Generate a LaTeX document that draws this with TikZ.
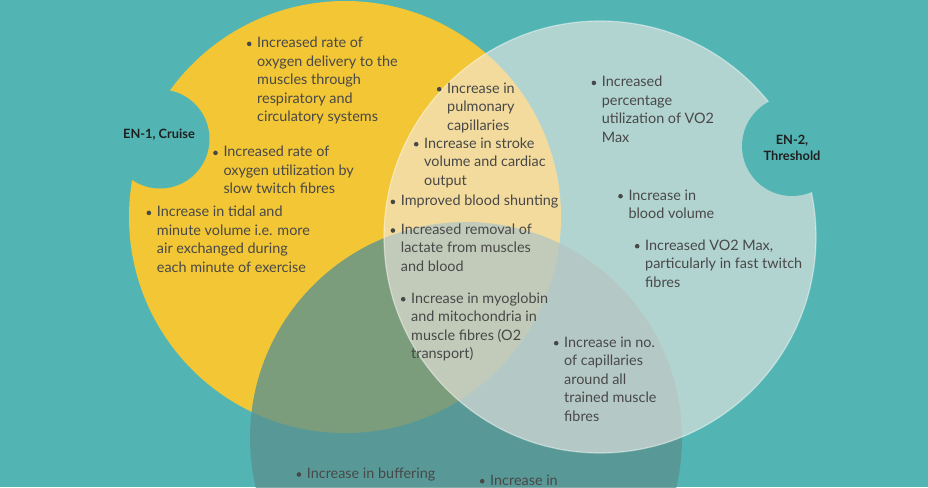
\documentclass[tikz,border=0pt]{standalone}
\usepackage{fontspec}
\setmainfont{Lato}
\usepackage{tikz}
\definecolor{enbg}{RGB}{82,181,180}
\definecolor{enyel}{RGB}{242,198,52}
\definecolor{enlit}{RGB}{242,234,228}
\definecolor{endrk}{RGB}{90,146,144}
\definecolor{entext}{RGB}{72,72,72}
\def\rSet{216}
\def\xYel{345}
\def\yYel{217}
\def\xLit{600}
\def\yLit{237}
\def\xDrk{466}
\def\yDrk{438}
\tikzset{
  enyelset/.style={fill=enyel},
  endrkset/.style={fill=endrk, fill opacity=0.78},
  enlitset/.style={fill=enlit, fill opacity=0.6, draw=white, draw opacity=0.45, line width=1.2pt},
  encut/.style={fill=enbg},
  entxt/.style={font=\fontsize{14.4}{18.5}\selectfont, text=entext, align=left, anchor=north west, inner sep=0pt},
  endot/.style={circle, fill=entext, inner sep=0pt, minimum size=4.6pt},
  enlbl/.style={font=\fontsize{12.8}{16}\selectfont\bfseries, text=black!88, align=center, inner sep=0pt},
}
\newcommand{\enitem}[4]{%
  \node[entxt] (#1) at (#2,#3) {\strut#4};
  \node[endot] (#1b) at ([xshift=-7.8pt,yshift=-9.2pt]#1.north west) {};}
\newcommand{\ensets}{%
  \fill[enyelset] (\xYel,\yYel) circle[radius=\rSet];
  \fill[endrkset] (\xDrk,\yDrk) circle[radius=\rSet];
  \filldraw[enlitset] (\xLit,\yLit) circle[radius=\rSet];
  \fill[encut] (160,139) circle[radius=49.5];
  \fill[encut] (792,146) circle[radius=50];}

\begin{document}
\begin{tikzpicture}[x=1pt, y=-1pt]
  \fill[enbg] (0,0) rectangle (928,487);
  \useasboundingbox (0,0) rectangle (928,487);
  \begin{scope}
    \clip (0,0) rectangle (928,487);
    \ensets
  \end{scope}

  \node[enlbl] (en1) at (159,135) {EN-1, Cruise};
  \node[enlbl] (en2) at (792,148) {EN-2,\\Threshold};

  % yellow only
  \enitem{deliv}{257}{34.7}{Increased rate of\\oxygen delivery to the\\muscles through\\respiratory and\\circulatory systems}
  \enitem{util}{223.3}{143.7}{Increased rate of\\oxygen utilization by\\slow twitch fibres}
  \enitem{tidal}{156.7}{203.7}{Increase in tidal and\\minute volume i.e. more\\air exchanged during\\each minute of exercise}
  % yellow and light
  \enitem{pulm}{447}{80}{Increase in\\pulmonary\\capillaries}
  \enitem{strk}{424}{135}{Increase in stroke\\volume and cardiac\\output}
  \enitem{shunt}{400.7}{192.7}{Improved blood shunting}
  % all three
  \enitem{lact}{400.7}{221.3}{Increased removal of\\lactate from muscles\\and blood}
  \enitem{myo}{411}{290}{Increase in myoglobin\\and mitochondria in\\muscle fibres (O2\\transport)}
  % light only
  \enitem{pct}{601.7}{73.7}{Increased\\percentage\\utilization of VO2\\Max}
  \enitem{bvol}{628.3}{187}{Increase in\\blood volume}
  \enitem{vo2}{645}{237}{Increased VO2 Max,\\particularly in fast twitch\\fibres}
  % light and dark
  \enitem{capl}{564}{334}{Increase in no.\\of capillaries\\around all\\trained muscle\\fibres}
  % dark only
  \enitem{buff}{306.7}{465.3}{Increase in buffering}
  \enitem{incr}{490}{472}{Increase in}
\end{tikzpicture}
\end{document}
